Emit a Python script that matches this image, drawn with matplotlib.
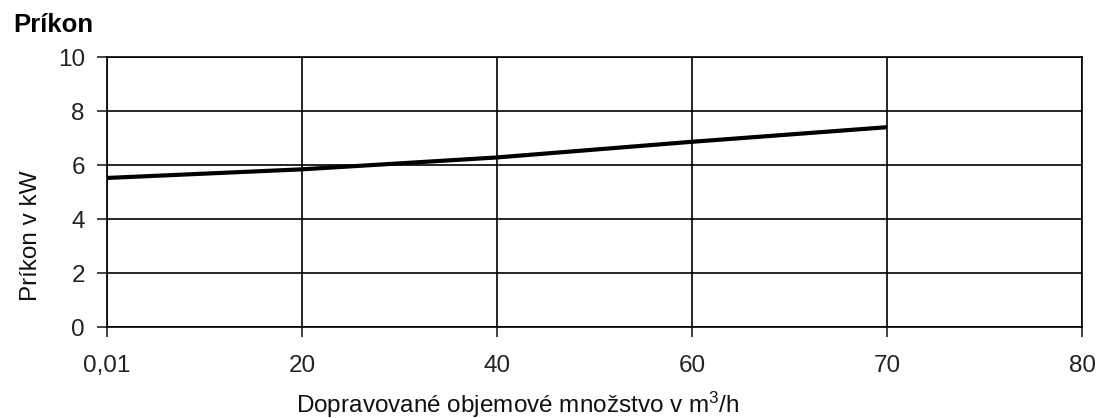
import numpy as np
import matplotlib
matplotlib.use('Agg')
import matplotlib.pyplot as plt

plt.rcParams['font.family'] = ['Liberation Sans', 'DejaVu Sans']
plt.rcParams['mathtext.fontset'] = 'custom'
plt.rcParams['mathtext.rm'] = 'Liberation Sans'
plt.rcParams['mathtext.it'] = 'Liberation Sans'

# categories on x axis (evenly spaced, like the original)
x_labels = ['0,01', '20', '40', '60', '70', '80']
# power input in kW
prikon = [5.52, 5.84, 6.28, 6.86, 7.40]

W, H = 1106, 418
fig = plt.figure(figsize=(W / 100, H / 100), dpi=100)
ax = fig.add_axes([107 / W, 1 - 327 / H, 975 / W, 270 / H])

pos = np.arange(len(x_labels))
ax.plot(pos[:len(prikon)], prikon, color='black', lw=3, solid_capstyle='butt')

ax.set_xlim(0, len(x_labels) - 1)
ax.set_ylim(0, 10)
ax.set_xticks(pos)
ax.set_xticklabels(x_labels)
ax.set_yticks([0, 2, 4, 6, 8, 10])

ax.grid(True, color='black', lw=1.2)
ax.set_axisbelow(True)
for s in ax.spines.values():
    s.set_color('black')
    s.set_linewidth(1.2)

ax.tick_params(axis='both', direction='out', length=7, width=1.2, labelsize=17.5,
               colors='#222222')
ax.tick_params(axis='x', pad=13)
ax.tick_params(axis='y', pad=9)

# axis titles placed like in the original
fig.text(296 / W, 1 - 413 / H, 'Dopravované objemové množstvo v m$^{3}$/h',
         fontsize=17.5, ha='left', va='baseline', color='#111111')
fig.text(31 / W, 1 - 236 / H, 'Príkon v kW', fontsize=17.5, rotation=90,
         ha='center', va='center', color='#111111')
fig.text(13 / W, 1 - 32 / H, 'Príkon', fontsize=18.5, fontweight='bold',
         ha='left', va='baseline')

fig.savefig('out.png', dpi=100)
